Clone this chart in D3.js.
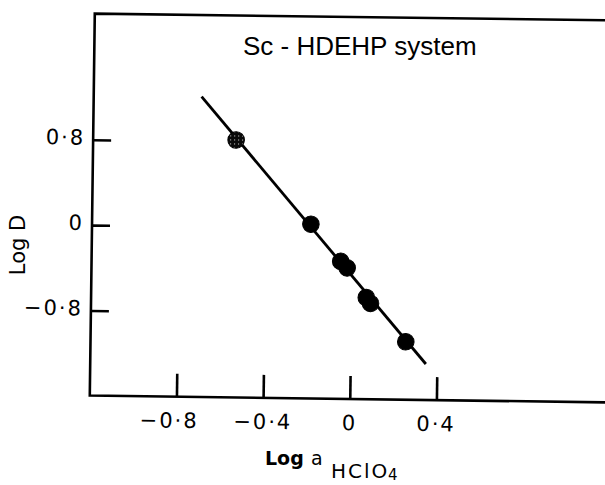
<!DOCTYPE html>
<html>
<head>
<meta charset="utf-8">
<script src="https://cdn.jsdelivr.net/npm/d3@7"></script>
<style>
  html, body { margin: 0; padding: 0; background: #fff; }
  svg { display: block; }
</style>
</head>
<body>
<svg id="chart" width="605" height="485"></svg>
<script>
// ---- data ----
const title = "Sc - HDEHP system";
const xTickValues = [-0.8, -0.4, 0, 0.4];
const xTickLabels = ["\u22120\u00B78", "\u22120\u00B74", "0", "0\u00B74"];
const yTickValues = [0.8, 0, -0.8];
const yTickLabels = ["0\u00B78", "0", "\u22120\u00B78"];
const logA = [-0.54, -0.19, -0.05, -0.02, 0.07, 0.09, 0.255];
const logD = [0.815, 0.035, -0.31, -0.37, -0.645, -0.70, -1.055];
const pointKind = ["speckled", "solid", "solid", "solid", "solid", "solid", "solid"];
const fitLogA = [-0.702, 0.349];
const fitLogD = [1.217, -1.261];

// ---- layout ----
const svg = d3.select("#chart");
const x = d3.scaleLinear().domain([-1.2, 1.2]).range([92, 612]);
const y = d3.scaleLinear().domain([1.982, -1.598]).range([17, 399]);

// the printed figure sits slightly skewed on the page
const g = svg.append("g").attr("transform", `rotate(0.75, ${x(0)}, ${y(0)})`);

// speckled fill for the first point
const defs = svg.append("defs");
const pat = defs.append("pattern").attr("id", "speck").attr("patternUnits", "userSpaceOnUse")
  .attr("width", 4).attr("height", 4);
pat.append("rect").attr("width", 4).attr("height", 4).attr("fill", "#0a0a0a");
pat.append("rect").attr("x", 1).attr("y", 1).attr("width", 1).attr("height", 1).attr("fill", "#ddd");

// frame: top, left, bottom
g.append("path")
  .attr("d", d3.line()([[x.range()[1], y.range()[0]], [x.range()[0], y.range()[0]], [x.range()[0], y.range()[1]], [x.range()[1], y.range()[1]]]))
  .attr("fill", "none").attr("stroke", "#000").attr("stroke-width", 2.6);

// x axis ticks (inward, upward)
const xa = g.append("g").attr("transform", `translate(0,${y.range()[1]})`)
  .call(d3.axisTop(x).tickValues(xTickValues).tickSize(23).tickFormat(""));
xa.select(".domain").remove();
xa.selectAll(".tick line").attr("stroke", "#000").attr("stroke-width", 2.6);

g.selectAll(".xlab").data(xTickValues).join("text")
  .attr("class", "xlab")
  .attr("x", d => x(d) + (d < -0.6 ? -7 : 0))
  .attr("y", y.range()[1] + 31)
  .attr("text-anchor", "middle")
  .attr("font-family", "DejaVu Sans, sans-serif")
  .attr("font-size", 21)
  .attr("letter-spacing", 2)
  .text((d, i) => xTickLabels[i]);

// y axis ticks (inward, rightward)
const ya = g.append("g").attr("transform", `translate(${x.range()[0]},0)`)
  .call(d3.axisRight(y).tickValues(yTickValues).tickSize(18).tickFormat(""));
ya.select(".domain").remove();
ya.selectAll(".tick line").attr("stroke", "#000").attr("stroke-width", 2.6);

g.selectAll(".ylab").data(yTickValues).join("text")
  .attr("class", "ylab")
  .attr("x", x.range()[0] - 8)
  .attr("y", d => y(d) + 5)
  .attr("text-anchor", "end")
  .attr("font-family", "DejaVu Sans, sans-serif")
  .attr("font-size", 21)
  .attr("letter-spacing", 2)
  .text((d, i) => yTickLabels[i]);

// fitted line
g.append("path")
  .attr("d", d3.line().x(d => x(d[0])).y(d => y(d[1]))(fitLogA.map((v, i) => [v, fitLogD[i]])))
  .attr("fill", "none").attr("stroke", "#000").attr("stroke-width", 2.8);

// points
g.selectAll(".pt").data(logA.map((v, i) => ({a: v, d: logD[i], k: pointKind[i]}))).join("circle")
  .attr("class", "pt")
  .attr("cx", d => x(d.a))
  .attr("cy", d => y(d.d))
  .attr("r", 8.3)
  .attr("fill", d => d.k === "speckled" ? "url(#speck)" : "#000")
  .attr("stroke", "#000").attr("stroke-width", 1);

// titles (page coordinates)
svg.append("text")
  .attr("x", 243).attr("y", 55)
  .attr("font-family", "Liberation Sans, Arial, sans-serif")
  .attr("font-size", 26)
  .text(title);

const xt = svg.append("text")
  .attr("font-family", "DejaVu Sans, sans-serif")
  .attr("fill", "#000");
xt.append("tspan").attr("x", 265).attr("y", 465).attr("font-size", 19).attr("font-weight", "bold").text("Log");
xt.append("tspan").attr("x", 311).attr("y", 465).attr("font-size", 19).text("a");
xt.append("tspan").attr("x", 331).attr("y", 478).attr("font-size", 20).attr("letter-spacing", 2).text("HClO");
xt.append("tspan").attr("x", 388).attr("y", 480).attr("font-size", 15).text("4");

svg.append("text")
  .attr("transform", "translate(25,245) rotate(-90)")
  .attr("text-anchor", "middle")
  .attr("font-family", "DejaVu Sans, sans-serif")
  .attr("font-size", 21)
  .text("Log D");
</script>
</body>
</html>
